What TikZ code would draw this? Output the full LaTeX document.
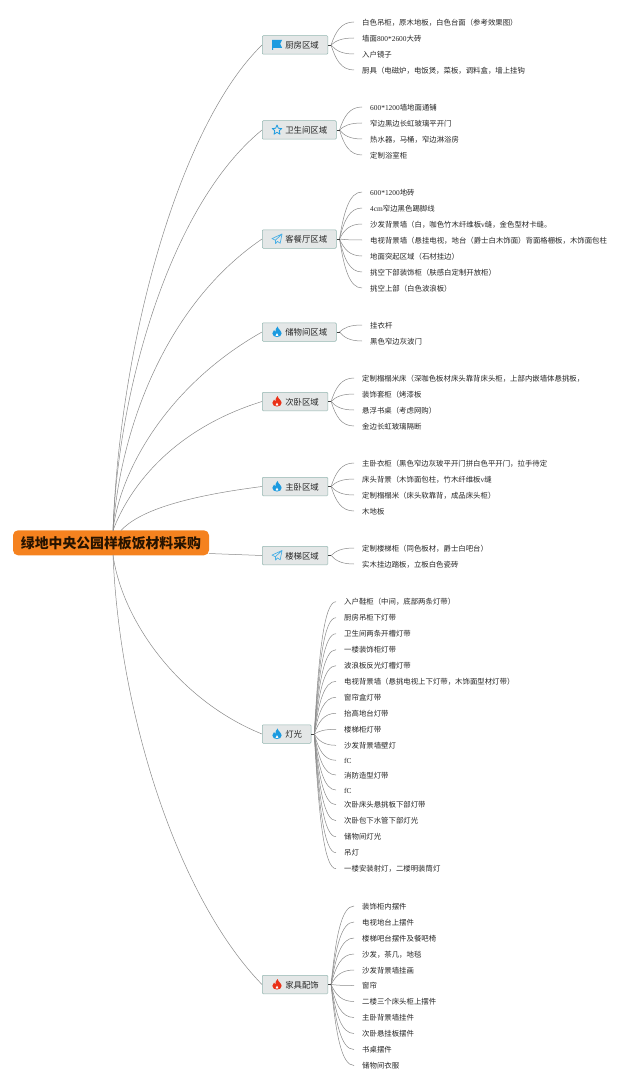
\documentclass[tikz,border=0pt]{standalone}
\usepackage{fontspec}
\setmainfont{Noto Sans CJK SC}
\newfontfamily\latfont{Liberation Serif}
\newcommand{\lat}[1]{{\latfont #1}}
\usetikzlibrary{calc}

\definecolor{linegray}{HTML}{8A8A8A}
\definecolor{boxfill}{HTML}{E4E7E7}
\definecolor{boxline}{HTML}{93B6B0}
\definecolor{rootorange}{HTML}{F5821F}
\definecolor{iconblue}{HTML}{1C9BE0}
\definecolor{iconred}{HTML}{EA3118}

\tikzset{
	rootbox/.style={fill=rootorange, rounded corners=5pt, inner sep=0, minimum width=196pt, minimum height=25pt, text=black!85!orange, font=\fontsize{13.85}{16}\selectfont\bfseries},
	branchbox/.style={draw=boxline, fill=boxfill, line width=0.5pt, rounded corners=1pt, inner sep=0, anchor=west, minimum height=18.5pt, text height=8pt, text depth=0.2pt, text=black!85, font=\fontsize{8.4}{10}\selectfont},
	leaf/.style={anchor=west, inner ysep=0, inner xsep=8pt, text height=6.9pt, text depth=0.5pt, text=black!85, font=\fontsize{7.4}{9}\selectfont},
	conn/.style={draw=linegray, line width=0.5pt},
	stub/.style={draw=black!75, line width=0.7pt},
	fan/.style={conn, to path={let \p1=(\tikztostart), \p2=(\tikztotarget) in
		.. controls ({\x1+0.2*(\x2-\x1)},{\y1+0.6*(\y2-\y1)}) and ({\x1+0.45*(\x2-\x1)},\y2) .. (\tikztotarget)}},
	flagicon/.pic={
		\fill[iconblue] (-5,-5) -- (5,-5) -- (3.2,-1.2) -- (5,2.8) -- (-4,2.8) -- (-4,5) -- (-5,5) -- cycle;
	},
	staricon/.pic={
		\draw[iconblue, line width=0.8pt, line join=round] (0,-5) -- (1.4,-1.7) -- (4.8,-1.5) -- (2.2,0.7) -- (3,4.2) -- (0,2.3) -- (-3,4.2) -- (-2.2,0.7) -- (-4.8,-1.5) -- (-1.4,-1.7) -- cycle;
	},
	planeicon/.pic={
		\draw[iconblue!80, line width=0.7pt, line join=round] (5,-5) -- (-5,-0.4) -- (-1.6,1.2) -- (5,-5) -- (3.2,4.2) -- (0.4,2.4) -- (-1.4,4.6) -- (-1.6,1.2);
	},
	flameicon/.pic={
		\fill[pic actions] (0.6,-5.6) .. controls (0.8,-3) and (4.6,-1.2) .. (4.6,1.4) .. controls (4.6,3.8) and (2.6,5) .. (0,5) .. controls (-2.6,5) and (-4.6,3.8) .. (-4.6,1.4) .. controls (-4.6,-0.2) and (-3.6,-1.2) .. (-3,-2) .. controls (-2.8,-0.8) and (-2.2,-0.2) .. (-1.6,0) .. controls (-1.8,-2) and (-1,-4.2) .. (0.6,-5.6) -- cycle;
		\fill[white] (0,1.2) .. controls (0.4,2.2) and (1.6,2.6) .. (1.4,3.6) .. controls (1.2,4.4) and (-1.2,4.4) .. (-1.4,3.6) .. controls (-1.6,2.6) and (-0.4,2.2) .. (0,1.2) -- cycle;
	}
}

\begin{document}
\begin{tikzpicture}[x=1pt, y=-1pt]
	\useasboundingbox (0,0) rectangle (640,1086);

	\node[rootbox] (root) at (111,542.8) {绿地中央公园样板饭材料采购};
	\coordinate (root-up) at (113,530.5);
	\coordinate (root-up2) at (121,530.5);
	\coordinate (root-side) at (208.8,553.5);
	\coordinate (root-down) at (113,555);

	\node[branchbox] (kitchen) at (262,45) {\hspace*{23pt}厨房区域\hspace*{9pt}};
	\node[branchbox] (bath) at (262,130) {\hspace*{23pt}卫生间区域\hspace*{9pt}};
	\node[branchbox] (living) at (262,239) {\hspace*{23pt}客餐厅区域\hspace*{9pt}};
	\node[branchbox] (storage) at (262,332) {\hspace*{23pt}储物间区域\hspace*{9pt}};
	\node[branchbox] (second) at (262,401.5) {\hspace*{23pt}次卧区域\hspace*{9pt}};
	\node[branchbox] (master) at (262,486.5) {\hspace*{23pt}主卧区域\hspace*{9pt}};
	\node[branchbox] (stairs) at (262,555.5) {\hspace*{23pt}楼梯区域\hspace*{9pt}};
	\node[branchbox] (light) at (262,734) {\hspace*{23pt}灯光\hspace*{9pt}};
	\node[branchbox] (decor) at (262,984.5) {\hspace*{23pt}家具配饰\hspace*{9pt}};

	\pic at ([xshift=15pt]kitchen.west) {flagicon};
	\pic at ([xshift=15pt]bath.west) {staricon};
	\pic at ([xshift=15pt]living.west) {planeicon};
	\pic[iconblue] at ([xshift=15pt]storage.west) {flameicon};
	\pic[iconred] at ([xshift=15pt]second.west) {flameicon};
	\pic[iconblue] at ([xshift=15pt]master.west) {flameicon};
	\pic at ([xshift=15pt]stairs.west) {planeicon};
	\pic[iconblue] at ([xshift=15pt]light.west) {flameicon};
	\pic[iconred] at ([xshift=15pt]decor.west) {flameicon};

	% root to branches
	\draw[conn] (root-up) .. controls (120,340) and (180,125) .. (kitchen.west);
	\draw[conn] (root-up) .. controls (118,390) and (170,205) .. (bath.west);
	\draw[conn] (root-up) .. controls (120,430) and (165,305) .. (living.west);
	\draw[conn] (root-up) .. controls (120,470) and (168,385) .. (storage.west);
	\draw[conn] (root-up) .. controls (128,490) and (170,430) .. (second.west);
	\draw[conn] (root-up2) .. controls (138,512) and (180,497) .. (master.west);
	\draw[conn] (root-side) -- (stairs.west);
	\draw[conn] (root-down) .. controls (122,620) and (178,700) .. (light.west);
	\draw[conn] (root-down) .. controls (120,720) and (180,900) .. (decor.west);

	% leaves
	\coordinate (kitchen-fan) at ([xshift=3pt]kitchen.east);
	\foreach \ly/\txt [count=\i] in {22/白色吊柜，原木地板，白色台面（参考效果图）, 38/墙面\lat{800*2600}大砖, 54/入户镜子, 70/厨具（电磁炉，电饭煲，菜板，调料盒，墙上挂钩} {
		\node[leaf] (kitchen\i) at (354,\ly) {\txt};
		\draw[fan] (kitchen-fan) to (kitchen\i.west);
	}
	\draw[stub] (kitchen.east) -- (kitchen-fan);

	\coordinate (bath-fan) at ([xshift=3pt]bath.east);
	\foreach \ly/\txt [count=\i] in {107/\lat{600*1200}墙地面通铺, 123/窄边黑边长虹玻璃平开门, 139/热水器，马桶，窄边淋浴房, 155/定制浴室柜} {
		\node[leaf] (bath\i) at (362,\ly) {\txt};
		\draw[fan] (bath-fan) to (bath\i.west);
	}
	\draw[stub] (bath.east) -- (bath-fan);

	\coordinate (living-fan) at ([xshift=3pt]living.east);
	\foreach \ly/\txt [count=\i] in {192/\lat{600*1200}地砖, 208/\lat{4cm}窄边黑色踢脚线, 224/沙发背景墙（白，咖色竹木纤维板\lat{v}缝，金色型材卡缝。, 240/电视背景墙（悬挂电视，地台（爵士白木饰面）背面格栅板，木饰面包柱, 256/地面突起区域（石材挂边）, 272/挑空下部装饰柜（肤感白定制开放柜）, 288/挑空上部（白色波浪板）} {
		\node[leaf] (living\i) at (362,\ly) {\txt};
		\draw[fan] (living-fan) to (living\i.west);
	}
	\draw[stub] (living.east) -- (living-fan);

	\coordinate (storage-fan) at ([xshift=3pt]storage.east);
	\foreach \ly/\txt [count=\i] in {325/挂衣杆, 341/黑色窄边灰波门} {
		\node[leaf] (storage\i) at (362,\ly) {\txt};
		\draw[fan] (storage-fan) to (storage\i.west);
	}
	\draw[stub] (storage.east) -- (storage-fan);

	\coordinate (second-fan) at ([xshift=3pt]second.east);
	\foreach \ly/\txt [count=\i] in {378/定制榻榻米床（深咖色板材床头靠背床头柜，上部内嵌墙体悬挑板，, 394/装饰套柜（烤漆板, 410/悬浮书桌（考虑网购）, 426/金边长虹玻璃隔断} {
		\node[leaf] (second\i) at (354,\ly) {\txt};
		\draw[fan] (second-fan) to (second\i.west);
	}
	\draw[stub] (second.east) -- (second-fan);

	\coordinate (master-fan) at ([xshift=3pt]master.east);
	\foreach \ly/\txt [count=\i] in {463/主卧衣柜（黑色窄边灰玻平开门拼白色平开门，拉手待定, 479/床头背景（木饰面包柱，竹木纤维板\lat{v}缝, 495/定制榻榻米（床头软靠背，成品床头柜）, 511/木地板} {
		\node[leaf] (master\i) at (354,\ly) {\txt};
		\draw[fan] (master-fan) to (master\i.west);
	}
	\draw[stub] (master.east) -- (master-fan);

	\coordinate (stairs-fan) at ([xshift=3pt]stairs.east);
	\foreach \ly/\txt [count=\i] in {548/定制楼梯柜（同色板材，爵士白吧台）, 564/实木挂边踏板，立板白色瓷砖} {
		\node[leaf] (stairs\i) at (354,\ly) {\txt};
		\draw[fan] (stairs-fan) to (stairs\i.west);
	}
	\draw[stub] (stairs.east) -- (stairs-fan);

	\coordinate (light-fan) at ([xshift=3pt]light.east);
	\foreach \ly/\txt [count=\i] in {601.7/入户鞋柜（中间，底部两条灯带）, 617.7/厨房吊柜下灯带, 633.7/卫生间两条开槽灯带, 649.7/一楼装饰柜灯带, 665.7/波浪板反光灯槽灯带, 681.3/电视背景墙（悬挑电视上下灯带，木饰面型材灯带）, 697.3/窗帘盒灯带, 713.3/抬高地台灯带, 729.3/楼梯柜灯带, 745.3/沙发背景墙壁灯, 760.3/\lat{fC}, 775/消防造型灯带, 790/\lat{fC}, 804.7/次卧床头悬挑板下部灯带, 820.7/次卧包下水管下部灯光, 836.7/储物间灯光, 852.7/吊灯, 868.7/一楼安装射灯，二楼明装筒灯} {
		\node[leaf] (light\i) at (336,\ly) {\txt};
		\draw[fan] (light-fan) to (light\i.west);
	}
	\draw[stub] (light.east) -- (light-fan);

	\coordinate (decor-fan) at ([xshift=3pt]decor.east);
	\foreach \ly/\txt [count=\i] in {906/装饰柜内摆件, 922/电视地台上摆件, 938/楼梯吧台摆件及餐吧椅, 954/沙发，茶几，地毯, 970/沙发背景墙挂画, 985.5/窗帘, 1001.5/二楼三个床头柜上摆件, 1017.5/主卧背景墙挂件, 1033.5/次卧悬挂板摆件, 1049.5/书桌摆件, 1065.5/储物间衣服} {
		\node[leaf] (decor\i) at (354,\ly) {\txt};
		\draw[fan] (decor-fan) to (decor\i.west);
	}
	\draw[stub] (decor.east) -- (decor-fan);
\end{tikzpicture}
\end{document}
